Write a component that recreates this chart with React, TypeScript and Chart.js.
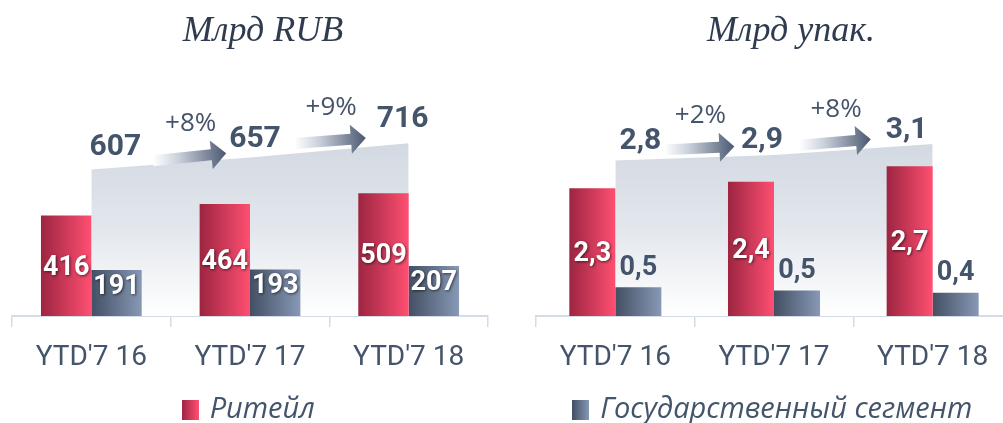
import React, { useEffect, useRef } from 'react';
import { Chart, registerables } from 'chart.js';

Chart.register(...registerables);

// ---- data ----
const categories = ["YTD'7 16", "YTD'7 17", "YTD'7 18"];
const seriesNames = ['Ритейл', 'Государственный сегмент'];

const rubTitle = 'Млрд RUB';
const rubRetail = [416, 464, 509];
const rubGov = [191, 193, 207];
const rubTotal = [607, 657, 716];
const rubGrowth = ['+8%', '+9%'];

const packTitle = 'Млрд упак.';
const packRetail = [2.3, 2.42, 2.7];
const packGov = [0.52, 0.46, 0.42];
const packTotal = [2.8, 2.9, 3.1];
const packGrowth = ['+2%', '+8%'];

// ---- styles ----
const TEXT = '#44546a';
const TITLE = '#2f3b4f';
const AXIS = '#d5dce5';
const RED = ['#9c2541', '#ff4f71'];
const BLUE = ['#434f63', '#8799b6'];
const CANVAS_H = 434;
const LEGEND_FONT = 29;
const LEGEND_PAD = 10;
const AXIS_BOTTOM = 316;

interface ArrowCfg { from: number; to: number; liftFrom: number; liftTo: number }
interface PanelCfg {
  title: string;
  titleShift: number;
  retail: number[];
  gov: number[];
  total: number[];
  growth: string[];
  yMax: number;
  barPct: number;
  decimals: boolean;
  govInside: boolean;
  legendIndex: number;
  totalOffsets: number[][];
  arrows: ArrowCfg[];
}

const rubCfg: PanelCfg = {
  title: rubTitle,
  titleShift: 13,
  retail: rubRetail,
  gov: rubGov,
  total: rubTotal,
  growth: rubGrowth,
  yMax: 920,
  barPct: 0.635,
  decimals: false,
  govInside: true,
  legendIndex: 0,
  totalOffsets: [[24, -22], [5, -18], [-6, -24]],
  arrows: [
    { from: 0.39, to: 0.85, liftFrom: 4, liftTo: 6 },
    { from: 0.28, to: 0.73, liftFrom: 10, liftTo: 9 },
  ],
};

const packCfg: PanelCfg = {
  title: packTitle,
  titleShift: 17,
  retail: packRetail,
  gov: packGov,
  total: packTotal,
  growth: packGrowth,
  yMax: 4,
  barPct: 0.58,
  decimals: true,
  govInside: false,
  legendIndex: 1,
  totalOffsets: [[25, -19], [-12, -15], [-26, -13]],
  arrows: [
    { from: 0.31, to: 0.75, liftFrom: 9, liftTo: 10 },
    { from: 0.16, to: 0.61, liftFrom: 8, liftTo: 9 },
  ],
};

function fmt(v: number, decimals: boolean) {
  return decimals ? v.toFixed(1).replace('.', ',') : String(v);
}

function makeSwatch(colors: string[]) {
  const c = document.createElement('canvas');
  c.width = 17;
  c.height = 20;
  const g = c.getContext('2d')!;
  const gr = g.createLinearGradient(0, 0, 17, 0);
  gr.addColorStop(0, colors[0]);
  gr.addColorStop(1, colors[1]);
  g.fillStyle = gr;
  g.fillRect(0, 0, 17, 20);
  return c;
}

function barGradient(colors: string[], side: number, barPct: number) {
  return (ctx: any) => {
    const chart = ctx.chart;
    const xs = chart.scales && chart.scales.x;
    if (!chart.chartArea || !xs || typeof ctx.dataIndex !== 'number') return colors[1];
    const center = xs.getPixelForValue(ctx.dataIndex);
    const cat = xs.width / categories.length;
    const bw = (cat * barPct) / 2;
    const x0 = side === 0 ? center - bw : center;
    const g = chart.ctx.createLinearGradient(x0, 0, x0 + bw, 0);
    g.addColorStop(0, colors[0]);
    g.addColorStop(1, colors[1]);
    return g;
  };
}

function areaGradient(total: number[]) {
  return (ctx: any) => {
    const chart = ctx.chart;
    const ys = chart.scales && chart.scales.y;
    if (!chart.chartArea || !ys) return '#dde2ea';
    const top = ys.getPixelForValue(Math.max(...total));
    const g = chart.ctx.createLinearGradient(0, top, 0, chart.chartArea.bottom);
    g.addColorStop(0, '#d3d9e2');
    g.addColorStop(0.5, '#e3e7ed');
    g.addColorStop(1, '#ffffff');
    return g;
  };
}

function drawArrow(c: CanvasRenderingContext2D, tx: number, ty: number, hx: number, hy: number) {
  const dx = hx - tx;
  const dy = hy - ty;
  const len = Math.hypot(dx, dy);
  const ux = dx / len;
  const uy = dy / len;
  const nx = -uy;
  const ny = ux;
  const body = 5.5;
  const head = 14.5;
  const headLen = 15;
  const bx = hx - ux * headLen;
  const by = hy - uy * headLen;
  const g = c.createLinearGradient(tx, ty, hx, hy);
  g.addColorStop(0, 'rgba(255,255,255,1)');
  g.addColorStop(0.35, '#c9d0db');
  g.addColorStop(1, '#4a5870');
  c.beginPath();
  c.moveTo(tx + nx * body, ty + ny * body);
  c.lineTo(bx + nx * body, by + ny * body);
  c.lineTo(bx + nx * head, by + ny * head);
  c.lineTo(hx, hy);
  c.lineTo(bx - nx * head, by - ny * head);
  c.lineTo(bx - nx * body, by - ny * body);
  c.lineTo(tx - nx * body, ty - ny * body);
  c.closePath();
  c.fillStyle = g;
  c.fill();
}

function makePlugin(cfg: PanelCfg) {
  return {
    id: 'annotations',
    afterDatasetsDraw(chart: any) {
      const c: CanvasRenderingContext2D = chart.ctx;
      const retail = chart.getDatasetMeta(0).data;
      const gov = chart.getDatasetMeta(1).data;
      const tot = chart.getDatasetMeta(2).data;
      c.save();
      c.textAlign = 'center';
      c.textBaseline = 'middle';

      // growth arrows
      cfg.arrows.forEach((a, i) => {
        const p0 = tot[i].getProps(['x', 'y'], true);
        const p1 = tot[i + 1].getProps(['x', 'y'], true);
        const tx = p0.x + a.from * (p1.x - p0.x);
        const ty = p0.y + a.from * (p1.y - p0.y) - a.liftFrom;
        const hx = p0.x + a.to * (p1.x - p0.x);
        const hy = p0.y + a.to * (p1.y - p0.y) - a.liftTo;
        drawArrow(c, tx, ty, hx, hy);
        c.font = '26px "Open Sans"';
        c.fillStyle = TEXT;
        c.fillText(cfg.growth[i], (tx + hx) / 2 + 1, (ty + hy) / 2 - 33);
      });

      // totals
      c.font = 'bold 30px Roboto';
      c.fillStyle = TEXT;
      tot.forEach((el: any, i: number) => {
        const p = el.getProps(['x', 'y'], true);
        const [dx, dy] = cfg.totalOffsets[i];
        c.fillText(fmt(cfg.total[i], cfg.decimals), p.x + dx, p.y + dy);
      });

      // bar labels
      c.font = 'bold 27px Roboto';
      const shadowOn = () => {
        c.shadowColor = 'rgba(0,0,0,0.6)';
        c.shadowBlur = 3;
        c.shadowOffsetX = 1;
        c.shadowOffsetY = 1;
      };
      const shadowOff = () => {
        c.shadowColor = 'rgba(0,0,0,0)';
        c.shadowBlur = 0;
        c.shadowOffsetX = 0;
        c.shadowOffsetY = 0;
      };
      retail.forEach((el: any, i: number) => {
        const b = el.getProps(['x', 'y', 'base'], true);
        shadowOn();
        c.fillStyle = '#ffffff';
        c.fillText(fmt(cfg.retail[i], cfg.decimals), b.x, (b.y + b.base) / 2 + 2);
      });
      gov.forEach((el: any, i: number) => {
        const b = el.getProps(['x', 'y', 'base'], true);
        if (cfg.govInside) {
          shadowOn();
          c.fillStyle = '#ffffff';
          c.fillText(fmt(cfg.gov[i], cfg.decimals), b.x, b.y + 17);
        } else {
          shadowOff();
          c.fillStyle = TEXT;
          c.fillText(fmt(cfg.gov[i], cfg.decimals), b.x, b.y - 19);
        }
      });
      c.restore();
    },
    afterDraw(chart: any) {
      const c: CanvasRenderingContext2D = chart.ctx;
      const area = chart.chartArea;
      c.save();
      c.font = 'italic 36px "Liberation Serif"';
      c.fillStyle = TITLE;
      c.textAlign = 'center';
      c.textBaseline = 'alphabetic';
      c.fillText(cfg.title, (area.left + area.right) / 2 + cfg.titleShift, 41);
      c.restore();
    },
  };
}

function Panel({ cfg, left }: { cfg: PanelCfg; left: number }) {
  const ref = useRef<HTMLCanvasElement>(null);
  useEffect(() => {
    const canvas = ref.current!;
    const swatch = makeSwatch(cfg.legendIndex === 0 ? RED : BLUE);
    const legendTop = CANVAS_H - (LEGEND_FONT + LEGEND_PAD + 10);
    const chart = new Chart(canvas, {
      type: 'bar',
      data: {
        labels: categories,
        datasets: [
          {
            type: 'bar',
            label: seriesNames[0],
            data: cfg.retail,
            backgroundColor: barGradient(RED, 0, cfg.barPct),
            borderWidth: 0,
            categoryPercentage: cfg.barPct,
            barPercentage: 1,
            order: 1,
          },
          {
            type: 'bar',
            label: seriesNames[1],
            data: cfg.gov,
            backgroundColor: barGradient(BLUE, 1, cfg.barPct),
            borderWidth: 0,
            categoryPercentage: cfg.barPct,
            barPercentage: 1,
            order: 1,
          },
          {
            type: 'line',
            label: 'total',
            data: cfg.total,
            fill: 'origin',
            backgroundColor: areaGradient(cfg.total),
            borderWidth: 0,
            borderColor: 'rgba(0,0,0,0)',
            pointRadius: 0,
            tension: 0,
            order: 5,
          },
        ] as any,
      },
      options: {
        responsive: false,
        animation: false,
        events: [],
        layout: { padding: { left: 12, right: 12, top: 94, bottom: 0 } },
        plugins: {
          title: { display: false },
          tooltip: { enabled: false },
          legend: {
            display: true,
            position: 'bottom',
            labels: {
              filter: (it: any) => it.datasetIndex === cfg.legendIndex,
              usePointStyle: true,
              pointStyle: swatch as any,
              pointStyleWidth: 10,
              font: { family: '"Open Sans"', size: LEGEND_FONT, style: 'italic' },
              color: TEXT,
              padding: LEGEND_PAD,
            },
          },
        },
        scales: {
          x: {
            grid: {
              display: true,
              drawOnChartArea: false,
              drawTicks: true,
              tickLength: 11,
              color: AXIS,
              lineWidth: 1.5,
              offset: true,
            },
            border: { display: true, color: AXIS, width: 2 },
            ticks: {
              font: { family: 'Roboto', size: 28 },
              color: TEXT,
              padding: 14,
              maxRotation: 0,
              autoSkip: false,
            },
            afterFit: (s: any) => {
              s.height = legendTop - AXIS_BOTTOM;
            },
          },
          y: { display: false, min: 0, max: cfg.yMax },
        },
      } as any,
      plugins: [makePlugin(cfg)],
    });
    return () => chart.destroy();
  }, [cfg]);
  return (
    <canvas
      ref={ref}
      width={500}
      height={CANVAS_H}
      style={{ position: 'absolute', left, top: 0, width: 500, height: CANVAS_H }}
    />
  );
}

export default function App() {
  return (
    <div
      style={{
        position: 'fixed',
        left: 0,
        top: 0,
        width: 1003,
        height: 423,
        overflow: 'hidden',
        background: '#ffffff',
      }}
    >
      <Panel cfg={rubCfg} left={0} />
      <Panel cfg={packCfg} left={524} />
    </div>
  );
}
